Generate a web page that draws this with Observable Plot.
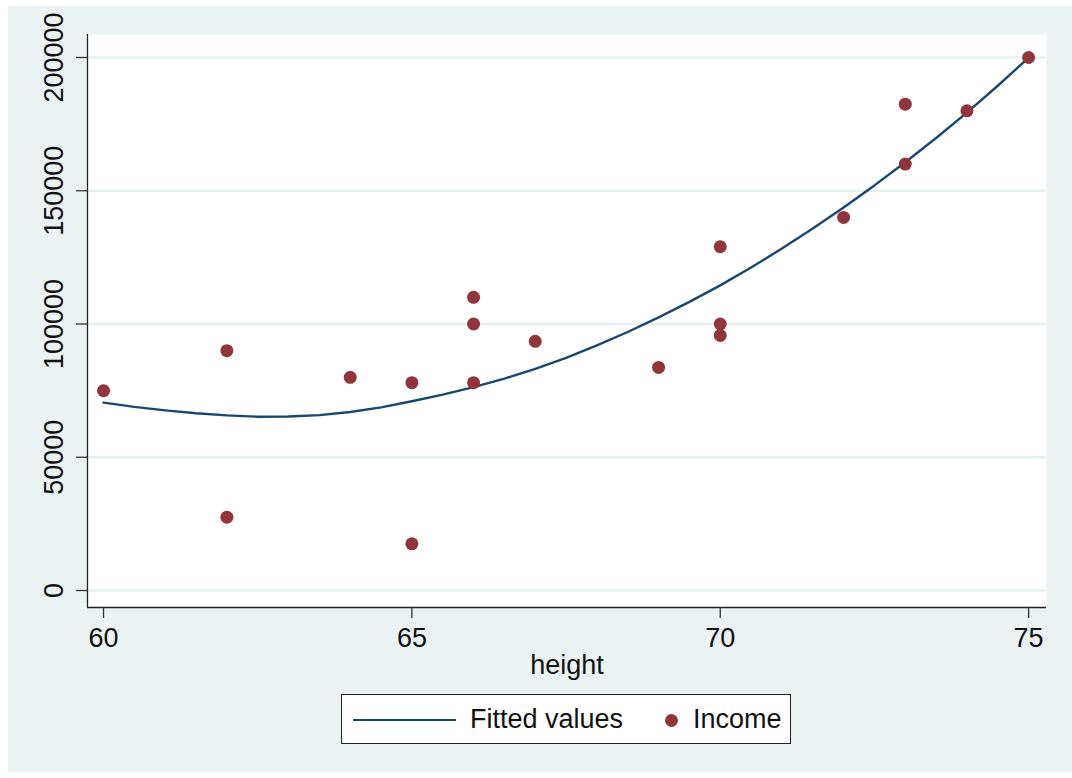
<!DOCTYPE html>
<html>
<head>
<meta charset="utf-8">
<script src="https://cdn.jsdelivr.net/npm/d3@7"></script>
<script src="https://cdn.jsdelivr.net/npm/@observablehq/plot@0.6"></script>
<style>
  html, body { margin: 0; padding: 0; background: #ffffff; }
  #wrap { position: relative; width: 1072px; height: 778px; background: #ffffff; overflow: hidden;
          font-family: "Liberation Sans", Arial, Helvetica, sans-serif; }
  #bg { position: absolute; left: 8px; top: 6px; width: 1064px; height: 766px; background: #EAF2F3; }
  #chart { position: absolute; left: 0; top: 0; }
  #legend { position: absolute; left: 341px; top: 694px; width: 448px; height: 48px;
            background: #ffffff; border: 1px solid #222; box-sizing: content-box; }
  .lg-line { position: absolute; left: 11px; top: 24px; width: 103px; height: 0; border-top: 2.4px solid #1A476F; }
  .lg-text { position: absolute; top: 9px; font-size: 27px; line-height: 30px; color: #111; white-space: nowrap; }
  .lg-dot { position: absolute; left: 323px; top: 19px; width: 13px; height: 13px; border-radius: 50%; background: #90353B; }
</style>
</head>
<body>
<div id="wrap">
  <div id="bg"></div>
  <div id="chart"></div>
  <div id="legend">
    <div class="lg-line"></div>
    <div class="lg-text" style="left:128px">Fitted values</div>
    <div class="lg-dot"></div>
    <div class="lg-text" style="left:351px">Income</div>
  </div>
</div>
<script>
// ---- data ----
const incomeHeight = [60, 62, 62, 64, 65, 65, 66, 66, 66, 67, 69, 70, 70, 70, 72, 73, 73, 74, 75];
const incomeValue  = [75000, 90000, 27500, 80000, 78000, 17500, 110000, 100000, 78000, 93500, 83700, 129000, 100000, 95700, 140000, 182500, 160000, 180000, 200000];

const fitHeight = [60, 60.5, 61, 61.5, 62, 62.5, 63, 63.5, 64, 64.5, 65, 65.5, 66, 66.5, 67, 67.5, 68, 68.5, 69, 69.5, 70, 70.5, 71, 71.5, 72, 72.5, 73, 73.5, 74, 74.5, 75];
const fitValue  = [70500, 68900, 67600, 66500, 65700, 65200, 65300, 65800, 67000, 68700, 71000, 73500, 76300, 79500, 83200, 87300, 92000, 97000, 102500, 108300, 114500, 121200, 128300, 135800, 143700, 152000, 160700, 169800, 179300, 189400, 199900];

const xTicks = [60, 65, 70, 75];
const yTicks = [0, 50000, 100000, 150000, 200000];
const xTitle = "height";

const income = incomeHeight.map((h, i) => ({height: h, income: incomeValue[i]}));
const fitted = fitHeight.map((h, i) => ({height: h, fit: fitValue[i]}));

const xDomain = [59.74, 75.29];
const yDomain = [-6375, 208625];
const fontSize = 27;

const chart = Plot.plot({
  width: 1072,
  height: 680,
  marginLeft: 87,
  marginRight: 26,
  marginTop: 34,
  marginBottom: 73,
  style: {background: "transparent", fontFamily: "'Liberation Sans', Arial, Helvetica, sans-serif", fontSize: fontSize + "px", color: "#111", overflow: "visible"},
  x: {domain: xDomain, axis: null},
  y: {domain: yDomain, axis: null},
  marks: [
    Plot.frame({fill: "white", stroke: null}),
    Plot.gridY(yTicks, {stroke: "#E6EFF1", strokeOpacity: 1, strokeWidth: 2.5}),
    Plot.ruleX([xDomain[0]], {stroke: "#222", strokeWidth: 1.3}),
    Plot.ruleY([yDomain[0]], {stroke: "#222", strokeWidth: 1.3}),
    Plot.axisY(yTicks, {tickSize: 11, tickFormat: () => "", label: null, stroke: "#333", strokeWidth: 1.3}),
    Plot.text(yTicks, {y: d => d, text: d => String(d), frameAnchor: "left", textAnchor: "middle", lineAnchor: "middle", dx: -33, rotate: -90, fontSize: fontSize, fill: "#111"}),
    Plot.axisX(xTicks, {tickSize: 11, tickPadding: 9, label: null, fontSize: fontSize, stroke: "#333", strokeWidth: 1.3, fill: "#111"}),
    Plot.text([xTitle], {text: d => d, frameAnchor: "bottom", textAnchor: "middle", lineAnchor: "middle", dy: 58, fontSize: fontSize, fill: "#111", x: () => (xDomain[0] + xDomain[1]) / 2}),
    Plot.line(fitted, {x: "height", y: "fit", stroke: "#1A476F", strokeWidth: 2.4}),
    Plot.dot(income, {x: "height", y: "income", r: 6.5, fill: "#90353B", stroke: null})
  ]
});
document.getElementById("chart").appendChild(chart);
</script>
</body>
</html>
